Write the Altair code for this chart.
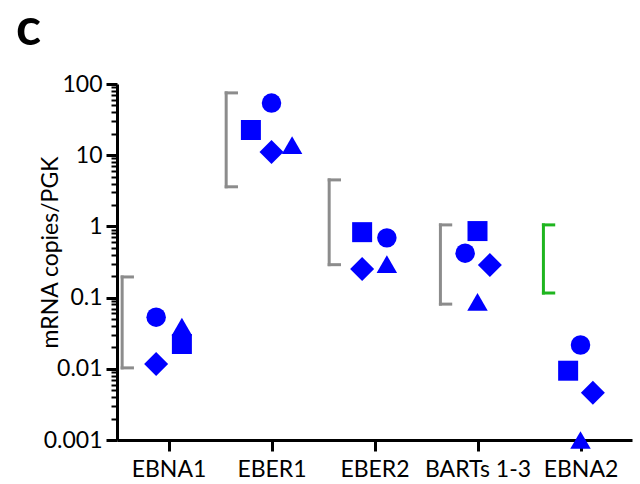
import altair as alt
import pandas as pd

categories = ["EBNA1", "EBER1", "EBER2", "BARTs 1-3", "EBNA2"]

# values (mRNA copies / PGK)
circle_vals = [0.053, 54.0, 0.69, 0.42, 0.0216]
square_vals = [0.0223, 22.6, 0.83, 0.86, 0.0094]
diamond_vals = [0.0117, 11.1, 0.252, 0.287, 0.0046]
triangle_vals = [0.039, 13.9, 0.296, 0.087, 0.001]

# horizontal jitter of each marker within its category
circle_off = [-0.12, 0.0, 0.12, -0.12, 0.0]
square_off = [0.13, -0.2, -0.12, 0.0, -0.12]
diamond_off = [-0.12, 0.0, -0.12, 0.12, 0.12]
triangle_off = [0.13, 0.2, 0.12, 0.0, 0.0]

# range brackets drawn left of each group
bracket_top = [0.195, 75.0, 4.5, 1.05, 1.05]
bracket_bottom = [0.0103, 3.6, 0.29, 0.081, 0.116]
bracket_off = [-0.45, -0.44, -0.44, -0.36, -0.36]
bracket_group = ["gray", "gray", "gray", "gray", "green"]


def series(vals, offs):
    return pd.DataFrame({"gene": categories,
                         "pos": [i + o for i, o in enumerate(offs)],
                         "value": vals})


serif = 0.1
brows = []
for i in range(len(categories)):
    x0 = i + bracket_off[i]
    brows.append({"x": x0, "x2": x0, "y": bracket_bottom[i], "y2": bracket_top[i], "g": bracket_group[i]})
    brows.append({"x": x0, "x2": x0 + serif, "y": bracket_top[i], "y2": bracket_top[i], "g": bracket_group[i]})
    brows.append({"x": x0, "x2": x0 + serif, "y": bracket_bottom[i], "y2": bracket_bottom[i], "g": bracket_group[i]})
brackets = pd.DataFrame(brows)

tick_vals = []
for d in range(-3, 2):
    for m in range(1, 10):
        tick_vals.append(round(m * 10 ** d, 6))
tick_vals.append(100)

is_decade = "abs(log(datum.value)/LN10 - round(log(datum.value)/LN10)) < 1e-6"

x_scale = alt.Scale(domain=[-0.5, 4.5], nice=False, zero=False)
y_scale = alt.Scale(type="log", domain=[0.001, 100], nice=False)

label_expr = "[" + ",".join("'" + c + "'" for c in categories) + "][datum.value]"

x_axis = alt.Axis(values=list(range(len(categories))), labelExpr=label_expr, title=None,
                  grid=False, domainColor="black", domainWidth=3, tickColor="black",
                  tickWidth=3, tickSize=11, labelFont="Lato", labelFontSize=23,
                  labelColor="black", labelPadding=7, labelFlush=False, labelOverlap=False)

y_axis = alt.Axis(values=tick_vals, title="mRNA copies/PGK", grid=False,
                  labelExpr=f"({is_decade}) ? toString(datum.value) : ''",
                  domainColor="black", domainWidth=3, tickColor="black",
                  tickWidth={"condition": {"test": is_decade, "value": 3}, "value": 2},
                  tickSize={"condition": {"test": is_decade, "value": 11}, "value": 6},
                  labelFont="Lato", labelFontSize=23, labelColor="black", labelPadding=4,
                  labelOverlap=False, labelFlush=False,
                  titleFont="Lato", titleFontSize=23, titleFontWeight="normal",
                  titleColor="black", titleAngle=-90, titleX=-60, titleY=168,
                  titleAlign="center", titleBaseline="alphabetic")

bracket_layer = alt.Chart(brackets).mark_rule(strokeWidth=3, strokeCap="square").encode(
    x=alt.X("x:Q", scale=x_scale, axis=x_axis),
    x2="x2:Q",
    y=alt.Y("y:Q", scale=y_scale, axis=y_axis),
    y2="y2:Q",
    color=alt.Color("g:N", scale=alt.Scale(domain=["gray", "green"], range=["#8c8c8c", "#1fb51f"]), legend=None),
)


def point_layer(df, shape, size):
    return alt.Chart(df).mark_point(filled=True, opacity=1, color="#0000ff", shape=shape,
                                    size=size, clip=False).encode(
        x=alt.X("pos:Q", scale=x_scale),
        y=alt.Y("value:Q", scale=y_scale),
    )


triangles = point_layer(series(triangle_vals, triangle_off), "triangle-up", 420)
diamonds = point_layer(series(diamond_vals, diamond_off), "diamond", 576)
circles = point_layer(series(circle_vals, circle_off), "circle", 380)
squares = point_layer(series(square_vals, square_off), "square", 400)

panel_letter = alt.Chart(pd.DataFrame({"t": ["c"]})).mark_text(
    font="Lato", fontSize=52, fontWeight="bold", color="black",
    align="left", baseline="alphabetic"
).encode(text="t:N", x=alt.value(-101), y=alt.value(-39))

chart = alt.layer(bracket_layer, triangles, diamonds, circles, squares, panel_letter).properties(
    width=515, height=356,
    padding={"left": 117, "top": 84, "right": 8, "bottom": 44},
    autosize=alt.AutoSizeParams(type="none"),
).configure_view(stroke=None)

chart.save("out.html", embed_options={"renderer": "svg", "actions": False})
